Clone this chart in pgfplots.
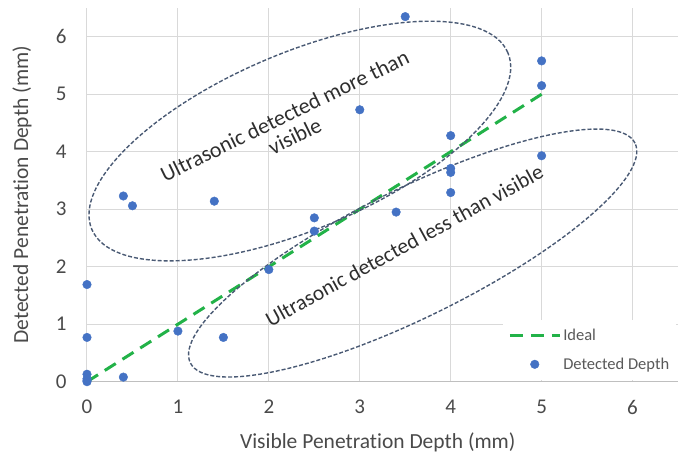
\documentclass[border=0pt]{standalone}
\usepackage{pgfplots}
\pgfplotsset{compat=1.18}
\usepackage{fontspec}
\setmainfont[Ligatures=NoCommon]{Carlito}

\definecolor{dotblue}{HTML}{4472C4}
\definecolor{idealgreen}{RGB}{34,178,72}
\definecolor{ringgray}{HTML}{4A5A74}
\definecolor{gridgray}{HTML}{D9D9D9}
\definecolor{axisgray}{HTML}{BFBFBF}
\definecolor{labelgray}{HTML}{4A4A4A}
\definecolor{legendgray}{HTML}{595959}
\definecolor{notegray}{HTML}{2E2E2E}

\begin{document}
\begin{tikzpicture}
  % 1 px of the reference = 1 pt here
  \path[use as bounding box] (-87pt,-74.3pt) rectangle (591pt,381.7pt);
  \begin{axis}[
      scale only axis,
      width=591pt,
      height=373.7pt,
      xmin=0, xmax=6.5,
      ymin=0, ymax=6.5,
      xtick={0,1,...,6},
      ytick={0,1,...,6},
      grid=major,
      major grid style={gridgray, line width=1pt},
      major tick length=0pt,
      axis x line*=bottom,
      axis y line*=left,
      x axis line style={axisgray, line width=1pt, -},
      y axis line style={draw=none},
      /pgf/number format/assume math mode=true,
      ticklabel style={font=\fontsize{21}{25}\selectfont, text=labelgray},
      xticklabel style={yshift=-15pt},
      yticklabel style={xshift=-17pt},
      xlabel={Visible Penetration Depth (mm)},
      ylabel={Detected Penetration Depth (mm)},
      label style={font=\fontsize{21.5}{25}\selectfont, text=labelgray},
      xlabel style={at={(axis description cs:0.492,-0.163)}, anchor=center},
      ylabel style={at={(axis description cs:-0.11,0.5)}, anchor=center},
      legend cell align=left,
      legend style={at={(axis description cs:0.704,0.166)}, anchor=north west,
        draw=none, fill=white, inner xsep=5pt, inner ysep=7pt,
        font=\fontsize{16.5}{20}\selectfont, text=legendgray,
        row sep=12pt},
      clip=false,
    ]
    \addplot[idealgreen, line width=3pt, dash pattern=on 13pt off 8pt,
      legend image code/.code={\draw[idealgreen, line width=3pt, dash pattern=on 13pt off 8pt] (0pt,0pt) -- (50pt,0pt);}]
      coordinates {(0,0) (5,5)};
    \addlegendentry{Ideal}

    \addplot[only marks, mark=*, mark size=4.3pt,
      mark options={fill=dotblue, draw=dotblue},
      legend image code/.code={\fill[dotblue] (25pt,0pt) circle (4.3pt);}]
      coordinates {
        (0,0) (0,0.02) (0,0.05) (0,0.13) (0.4,0.08)
        (0,0.77) (0,1.69) (1,0.88) (1.5,0.77) (2,1.95)
        (2.5,2.62) (2.5,2.85) (0.4,3.23) (0.5,3.06) (1.4,3.14)
        (3,4.73) (3.5,6.35) (3.4,2.95) (4,4.28) (4,3.71)
        (4,3.64) (4,3.29) (5,5.58) (5,5.15) (5,3.93)
      };
    \addlegendentry{Detected Depth}

    % annotation rings
    \draw[ringgray, line width=1.4pt, dash pattern=on 4pt off 2pt]
      (axis cs:2.341,4.186) ellipse [x radius=226pt, y radius=88pt, rotate=23];
    \draw[ringgray, line width=1.4pt, dash pattern=on 4pt off 2pt]
      (axis cs:3.582,2.238) ellipse [x radius=248pt, y radius=64pt, rotate=26.3];

    \node[rotate=26, align=center, text=notegray,
      font=\fontsize{22}{23}\selectfont]
      at (axis cs:2.23,4.45) {Ultrasonic detected more than\\visible};
    \node[rotate=28.7, text=notegray, font=\fontsize{21.5}{24}\selectfont]
      at (axis cs:3.49,2.37) {Ultrasonic detected less than visible};
  \end{axis}
\end{tikzpicture}
\end{document}
